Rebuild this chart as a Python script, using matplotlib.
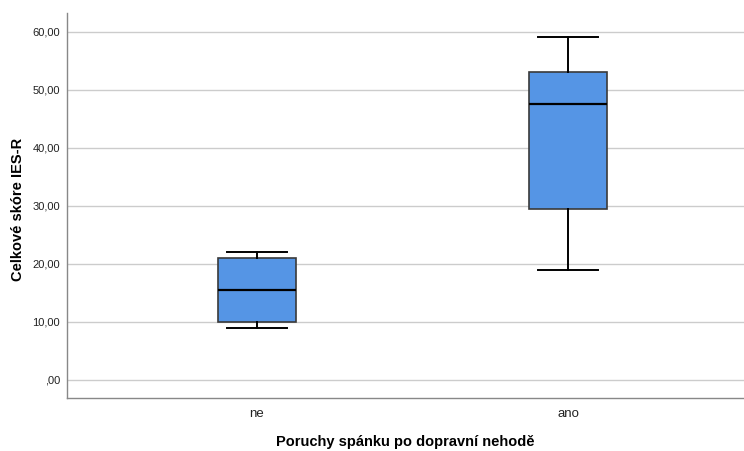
import matplotlib
matplotlib.use("Agg")
import matplotlib.pyplot as plt

categories = ["ne", "ano"]
whislo = [9.0, 19.0]
q1 = [10.0, 29.5]
med = [15.5, 47.5]
q3 = [21.0, 53.0]
whishi = [22.0, 59.0]
yticks = [0, 10, 20, 30, 40, 50, 60]
ytick_labels = [",00", "10,00", "20,00", "30,00", "40,00", "50,00", "60,00"]

plt.rcParams['font.family'] = ['Liberation Sans', 'DejaVu Sans']

fig = plt.figure(figsize=(7.44, 4.51), dpi=100)
ax = fig.add_axes([67/744, 53/451, 1 - 67/744, (398-13)/451])

stats = []
for i, c in enumerate(categories):
    stats.append(dict(label=c, whislo=whislo[i], q1=q1[i], med=med[i], q3=q3[i], whishi=whishi[i], fliers=[]))

ax.set_axisbelow(True)
ax.yaxis.grid(True, color="#cccccc", linewidth=1.0)
ax.bxp(stats, positions=range(len(categories)), widths=0.25, patch_artist=True, showfliers=False,
       boxprops=dict(facecolor="#5595e5", edgecolor="#3a3a3a", linewidth=1.2),
       medianprops=dict(color="black", linewidth=1.6),
       whiskerprops=dict(color="black", linewidth=1.4),
       capprops=dict(color="black", linewidth=1.4),
       capwidths=0.19)

ax.set_xlim(-0.611, 1.566)
ax.set_ylim(-3.1, 63.2)
ax.set_yticks(yticks)
ax.set_yticklabels(ytick_labels, fontsize=8, color="#222222")
ax.set_xticks(range(len(categories)))
ax.set_xticklabels(categories, fontsize=9.5, color="#222222")
ax.tick_params(axis="both", length=0, pad=5)
ax.tick_params(axis="x", pad=7)
for s in ["top", "right"]:
    ax.spines[s].set_visible(False)
for s in ["left", "bottom"]:
    ax.spines[s].set_color("#888888")
    ax.spines[s].set_linewidth(1.0)

ax.set_ylabel("Celkové skóre IES-R", fontsize=10.5, fontweight="bold")
ax.set_xlabel("Poruchy spánku po dopravní nehodě", fontsize=10.5, fontweight="bold", labelpad=11)
ax.yaxis.set_label_coords(-42/677, 0.49)

fig.savefig("out.png", dpi=100)
